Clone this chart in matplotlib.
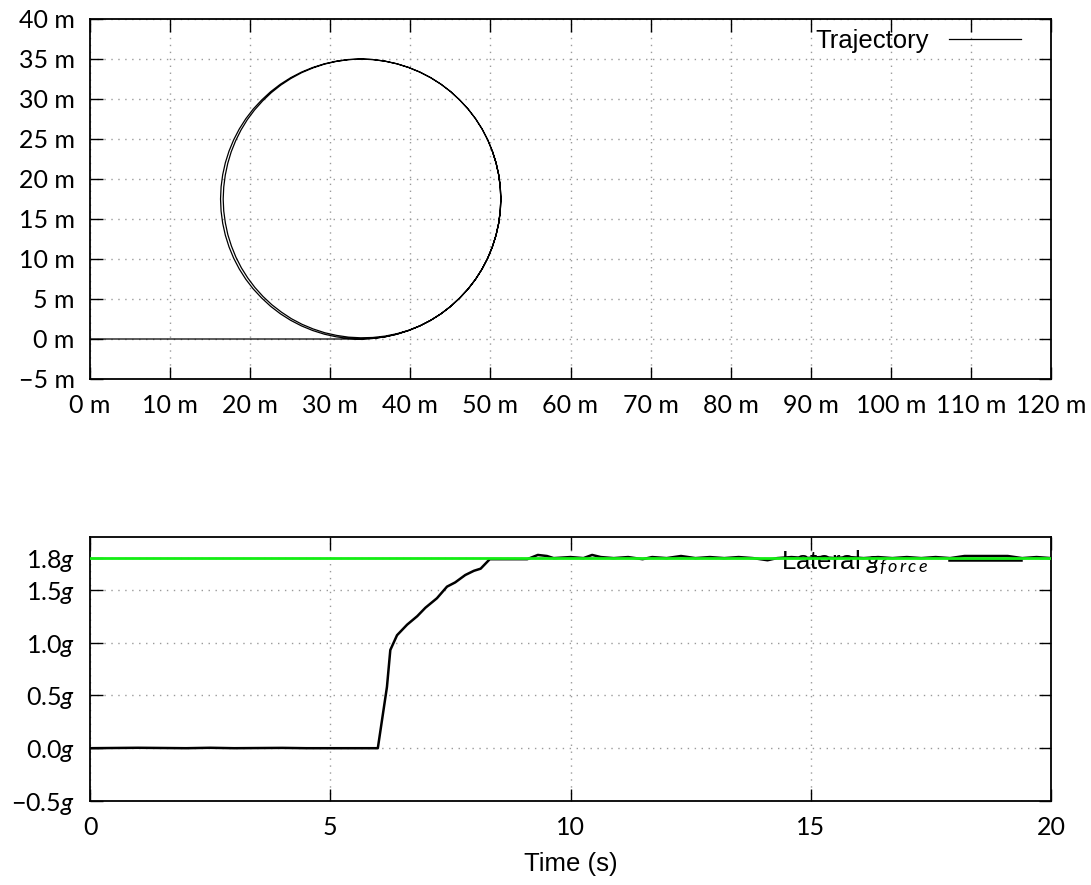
import matplotlib
matplotlib.use("Agg")
import matplotlib.pyplot as plt

plt.rcParams['mathtext.fontset'] = 'custom'
plt.rcParams['mathtext.rm'] = 'Lato'
plt.rcParams['mathtext.it'] = 'Lato:italic'

# ---------------- data ----------------
# trajectory (m), points
# straight approach along y = 0
approach_x = [0.0, 10.0, 20.0, 30.0, 33.80]
approach_y = [0.0, 0.0, 0.0, 0.0, 0.0]

# first loop (outer on the left side)
loop1_x = [35.33, 36.84, 38.33, 39.79, 41.20, 42.55, 43.84, 45.05, 46.17, 47.21,
           48.14, 48.96, 49.66, 50.24, 50.70, 51.03, 51.23, 51.30, 51.23, 51.03,
           50.70, 50.24, 49.66, 48.96, 48.14, 47.21, 46.17, 45.05, 43.84, 42.55,
           41.20, 39.79, 38.33, 36.84, 35.33, 33.80, 32.27, 30.76, 29.27, 27.81,
           26.40, 25.05, 23.76, 22.55, 21.43, 20.39, 19.46, 18.64, 17.94, 17.36,
           16.90, 16.57, 16.37, 16.30, 16.37, 16.57, 16.90, 17.36, 17.94, 18.64,
           19.46, 20.39, 21.43, 22.55, 23.76, 25.05, 26.40, 27.81, 29.27, 30.76,
           32.27, 33.80]
loop1_y = [0.07, 0.27, 0.60, 1.06, 1.64, 2.34, 3.16, 4.09, 5.13, 6.25,
           7.46, 8.75, 10.10, 11.51, 12.97, 14.46, 15.97, 17.50, 19.03, 20.54,
           22.03, 23.49, 24.90, 26.25, 27.54, 28.75, 29.87, 30.91, 31.84, 32.66,
           33.36, 33.94, 34.40, 34.73, 34.93, 35.00, 34.93, 34.73, 34.40, 33.94,
           33.36, 32.66, 31.84, 30.91, 29.87, 28.75, 27.54, 26.25, 24.90, 23.49,
           22.03, 20.54, 19.03, 17.50, 15.97, 14.46, 12.97, 11.51, 10.10, 8.75,
           7.46, 6.25, 5.13, 4.09, 3.16, 2.34, 1.64, 1.06, 0.60, 0.27,
           0.07, 0.00]

# second loop (inner on the left side)
loop2_x = [35.33, 36.84, 38.33, 39.79, 41.20, 42.55, 43.84, 45.05, 46.17, 47.21,
           48.14, 48.96, 49.66, 50.24, 50.70, 51.03, 51.23, 51.30, 51.23, 51.03,
           50.70, 50.24, 49.66, 48.96, 48.14, 47.21, 46.17, 45.05, 43.84, 42.55,
           41.20, 39.79, 38.33, 36.84, 35.33, 33.80, 32.27, 30.77, 29.28, 27.83,
           26.43, 25.10, 23.83, 22.65, 21.55, 20.54, 19.64, 18.86, 18.19, 17.63,
           17.20, 16.89, 16.70, 16.63, 16.70, 16.90, 17.21, 17.66, 18.22, 18.90,
           19.70, 20.60, 21.61, 22.71, 23.90, 25.16, 26.49, 27.88, 29.32, 30.79,
           32.28, 33.80]
loop2_y = [0.07, 0.27, 0.60, 1.06, 1.64, 2.34, 3.16, 4.09, 5.13, 6.25,
           7.46, 8.75, 10.10, 11.51, 12.97, 14.46, 15.97, 17.50, 19.03, 20.54,
           22.03, 23.49, 24.90, 26.25, 27.54, 28.75, 29.87, 30.91, 31.84, 32.66,
           33.36, 33.94, 34.40, 34.73, 34.93, 35.00, 34.92, 34.70, 34.36, 33.88,
           33.29, 32.57, 31.74, 30.80, 29.75, 28.62, 27.41, 26.13, 24.79, 23.39,
           21.95, 20.48, 19.00, 17.50, 16.00, 14.52, 13.05, 11.62, 10.23, 8.90,
           7.63, 6.43, 5.31, 4.28, 3.36, 2.53, 1.83, 1.25, 0.78, 0.45,
           0.23, 0.15]

# final partial loop on the right side
loop3_x = [35.32, 36.82, 38.31, 39.78, 41.20, 42.55, 43.84, 45.05, 46.17, 47.21,
           48.14, 48.96, 49.66, 50.24, 50.70, 51.03, 51.23, 51.30, 51.23, 51.03,
           50.70, 50.24]
loop3_y = [0.19, 0.36, 0.66, 1.09, 1.65, 2.34, 3.16, 4.09, 5.13, 6.25,
           7.46, 8.75, 10.10, 11.51, 12.97, 14.46, 15.97, 17.50, 19.03, 20.54,
           22.03, 23.49]

# lateral g vs time
t_s = [0.0, 1.0, 2.0, 2.5, 3.0, 4.0, 4.5, 5.0, 5.99, 6.18, 6.25, 6.39, 6.60,
       6.81, 6.98, 7.22, 7.43, 7.60, 7.81, 7.99, 8.13, 8.32, 8.54, 9.10,
       9.32, 9.51, 9.65, 10.0, 10.27, 10.45, 10.63, 10.9, 11.2, 11.5, 11.7,
       12.0, 12.3, 12.6, 12.9, 13.2, 13.5, 13.8, 14.1, 14.3, 14.6, 14.9,
       15.2, 15.5, 15.8, 16.1, 16.4, 16.7, 17.0, 17.3, 17.6, 17.9, 18.2,
       18.5, 18.8, 19.1, 19.4, 19.7, 20.0]
g_lat = [0.0, 0.004, 0.0, 0.004, 0.0, 0.003, 0.0, 0.0, 0.0, 0.58, 0.93, 1.07,
         1.17, 1.25, 1.33, 1.42, 1.53, 1.57, 1.64, 1.68, 1.70, 1.79, 1.79,
         1.79, 1.83, 1.82, 1.80, 1.81, 1.80, 1.83, 1.81, 1.80, 1.81, 1.79,
         1.81, 1.80, 1.82, 1.80, 1.81, 1.80, 1.81, 1.80, 1.78, 1.80, 1.81,
         1.80, 1.81, 1.80, 1.81, 1.80, 1.81, 1.80, 1.81, 1.80, 1.81, 1.80,
         1.82, 1.82, 1.82, 1.82, 1.80, 1.81, 1.80]
g_limit = 1.8

top_xticks = [0, 10, 20, 30, 40, 50, 60, 70, 80, 90, 100, 110, 120]
top_yticks = [-5, 0, 5, 10, 15, 20, 25, 30, 35, 40]
bot_xticks = [0, 5, 10, 15, 20]
bot_yticks = [-0.5, 0.0, 0.5, 1.0, 1.5, 1.8]
bot_ylabels = ['\u22120.5$g$', '0.0$g$', '0.5$g$', '1.0$g$', '1.5$g$', '1.8$g$']

traj_x = approach_x + loop1_x + loop2_x + loop3_x
traj_y = approach_y + loop1_y + loop2_y + loop3_y

# ---------------- figure ----------------
W, H = 1091, 885
fig = plt.figure(figsize=(W / 100, H / 100), dpi=100)

tick_font = dict(family=['Lato', 'DejaVu Sans'], size=18)
label_font = ['Liberation Sans', 'DejaVu Sans']
grid_kw = dict(color='#9a9a9a', linestyle=(0, (1, 4)), linewidth=1.0)


def style(ax):
    ax.tick_params(direction='in', length=9, width=1.0, top=True, right=True,
                   pad=11)
    for sp in ax.spines.values():
        sp.set_linewidth(1.3)
    ax.grid(True, **grid_kw)
    ax.set_axisbelow(True)


# top panel
ax1 = fig.add_axes([90 / W, 1 - 379 / H, 961 / W, 360 / H])
ax1.plot(traj_x, traj_y, color='black', linewidth=0.9, label='Trajectory')
ax1.set_xlim(0, 120)
ax1.set_ylim(-5, 40)
ax1.set_xticks(top_xticks)
ax1.set_yticks(top_yticks)
ax1.set_xticklabels([f'{v} m' for v in top_xticks], **tick_font)
ax1.set_yticklabels([f'{v} m'.replace('-', '\u2212') for v in top_yticks], **tick_font)
style(ax1)
ax1.legend(loc='upper right', bbox_to_anchor=(0.969, 0.971), frameon=False,
           markerfirst=False, handlelength=2.8, handletextpad=0.8,
           borderpad=0, borderaxespad=0,
           prop=dict(family=label_font, size=18.5))

# bottom panel
ax2 = fig.add_axes([90 / W, 1 - 801 / H, 961 / W, 264 / H])
ax2.plot(t_s, g_lat, color='black', linewidth=1.8,
         label=r'Lateral $g_{f\,o\,r\,c\,e}$')
ax2.axhline(g_limit, color='#14ee14', linewidth=2.0, zorder=6)
ax2.set_xlim(0, 20)
ax2.set_ylim(-0.5, 2.0)
ax2.set_xticks(bot_xticks)
ax2.set_yticks(bot_yticks)
ax2.set_xticklabels([str(v) for v in bot_xticks], **tick_font)
ax2.set_yticklabels(bot_ylabels, **tick_font)
style(ax2)
ax2.set_xlabel('Time (s)', family=label_font, size=18.5, labelpad=9)
leg2 = ax2.legend(loc='upper right', bbox_to_anchor=(0.969, 0.958), frameon=False,
                  markerfirst=False, handlelength=2.8, handletextpad=0.8,
                  borderpad=0, borderaxespad=0,
                  prop=dict(family=label_font, size=18.5))
leg2.set_zorder(5)

fig.savefig('out.png', dpi=100)
